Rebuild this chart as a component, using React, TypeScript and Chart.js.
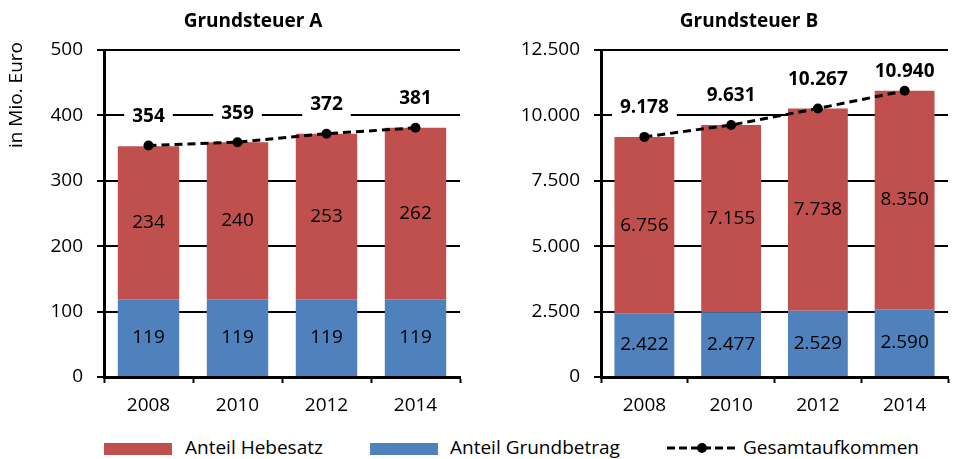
import React, { useEffect, useRef } from 'react';
import { Chart, registerables } from 'chart.js';

Chart.register(...registerables);

// ---- data ----
const categories = ['2008', '2010', '2012', '2014'];
const aHebesatz = [234, 240, 253, 262];
const aGrundbetrag = [119, 119, 119, 119];
const aGesamt = [354, 359, 372, 381];
const bHebesatz = [6756, 7155, 7738, 8350];
const bGrundbetrag = [2422, 2477, 2529, 2590];
const bGesamt = [9178, 9631, 10267, 10940];
const aTicks = [0, 100, 200, 300, 400, 500];
const bTicks = [0, 2500, 5000, 7500, 10000, 12500];
const seriesNames = ['Anteil Hebesatz', 'Anteil Grundbetrag', 'Gesamtaufkommen'];
const panelTitles = ['Grundsteuer A', 'Grundsteuer B'];
const yAxisTitle = 'in Mio. Euro';

const RED = '#C0504D';
const BLUE = '#4F81BD';
const FONT = "'Open Sans', sans-serif";

const fmt = (n: number) => String(n).replace(/\B(?=(\d{3})+(?!\d))/g, '.');

const valueLabels = {
  id: 'valueLabels',
  afterDatasetsDraw(chart: any) {
    const ctx = chart.ctx;
    const area = chart.chartArea;
    ctx.save();
    ctx.textAlign = 'center';
    ctx.textBaseline = 'middle';
    chart.data.datasets.forEach((ds: any, i: number) => {
      const meta = chart.getDatasetMeta(i);
      meta.data.forEach((el: any, j: number) => {
        const text = fmt(ds.data[j]);
        if (ds.type === 'line') {
          ctx.font = `bold 19px ${FONT}`;
          const w = ctx.measureText(text).width;
          const cy = Math.max(el.y - 29, area.top + 22);
          ctx.fillStyle = '#fff';
          ctx.fillRect(el.x - w / 2 - 8, cy - 12, w + 16, 24);
          ctx.fillStyle = '#000';
          ctx.fillText(text, el.x, cy);
        } else {
          ctx.font = `19px ${FONT}`;
          ctx.fillStyle = '#000';
          ctx.fillText(text, el.x, (el.y + el.base) / 2);
        }
      });
    });
    ctx.restore();
  },
};

const yTitlePlugin = {
  id: 'yTitle',
  afterDraw(chart: any) {
    const ctx = chart.ctx;
    ctx.save();
    ctx.translate(16.5, 95);
    ctx.rotate(-Math.PI / 2);
    ctx.font = `19px ${FONT}`;
    ctx.fillStyle = '#000';
    ctx.textAlign = 'center';
    ctx.textBaseline = 'middle';
    ctx.fillText(yAxisTitle, 0, 0);
    ctx.restore();
  },
};

function makeConfig(
  hebesatz: number[],
  grundbetrag: number[],
  gesamt: number[],
  ticks: number[],
  padRight: number,
  yWidth: number,
  withYTitle: boolean
): any {
  const font = { family: FONT, size: 19 };
  return {
    type: 'bar',
    data: {
      labels: categories,
      datasets: [
        {
          type: 'line',
          label: seriesNames[2],
          data: gesamt,
          borderColor: '#000',
          borderWidth: 3,
          borderDash: [8, 5],
          pointRadius: 5,
          pointBackgroundColor: '#000',
          pointBorderColor: '#000',
          pointBorderWidth: 0,
          tension: 0,
          order: 0,
          stack: 'total',
        },
        {
          type: 'bar',
          label: seriesNames[1],
          data: grundbetrag,
          backgroundColor: BLUE,
          order: 1,
          stack: 'bars',
          barPercentage: 0.69,
          categoryPercentage: 1,
        },
        {
          type: 'bar',
          label: seriesNames[0],
          data: hebesatz,
          backgroundColor: RED,
          order: 1,
          stack: 'bars',
          barPercentage: 0.69,
          categoryPercentage: 1,
        },
      ],
    },
    options: {
      responsive: false,
      animation: false,
      layout: { padding: { left: 0, right: padRight, top: 50, bottom: 0 } },
      plugins: {
        legend: { display: false },
        tooltip: { enabled: false },
        title: { display: false },
      },
      scales: {
        x: {
          stacked: true,
          grid: {
            offset: true,
            drawOnChartArea: false,
            drawTicks: true,
            tickLength: 6,
            tickColor: '#000',
            tickWidth: 2,
          },
          border: { color: '#000', width: 3 },
          ticks: { color: '#000', font, padding: 11 },
          afterFit: (s: any) => {
            s.height = 53;
          },
        },
        y: {
          stacked: true,
          min: 0,
          max: ticks[ticks.length - 1],
          afterBuildTicks: (s: any) => {
            s.ticks = ticks.map((v) => ({ value: v }));
          },
          grid: {
            color: '#000',
            lineWidth: 2,
            drawTicks: true,
            tickLength: 7,
            tickColor: '#000',
            tickWidth: 2,
          },
          border: { color: '#000', width: 3 },
          ticks: {
            color: '#000',
            font,
            padding: 14,
            callback: (v: any) => fmt(Number(v)),
          },
          afterFit: (s: any) => {
            s.width = yWidth;
          },
        },
      },
    },
    plugins: withYTitle ? [valueLabels, yTitlePlugin] : [valueLabels],
  };
}

function Panel(props: { cfg: () => any; left: number; width: number }) {
  const ref = useRef<HTMLCanvasElement | null>(null);
  useEffect(() => {
    if (!ref.current) return;
    const chart = new Chart(ref.current, props.cfg());
    return () => chart.destroy();
  }, []);
  return (
    <canvas
      ref={ref}
      width={props.width}
      height={430}
      style={{ position: 'absolute', left: props.left, top: 0, width: props.width, height: 430 }}
    />
  );
}

export default function App() {
  const textStyle: React.CSSProperties = {
    position: 'absolute',
    top: 435,
    fontFamily: FONT,
    fontSize: 19,
    lineHeight: '24px',
    color: '#000',
    whiteSpace: 'nowrap',
  };
  const titleStyle: React.CSSProperties = {
    position: 'absolute',
    top: 8,
    width: 240,
    textAlign: 'center',
    fontFamily: FONT,
    fontSize: 19,
    fontWeight: 'bold',
    lineHeight: '24px',
    color: '#000',
    whiteSpace: 'nowrap',
  };
  return (
    <div style={{ position: 'absolute', left: 0, top: 0, width: 953, height: 459, background: '#fff', overflow: 'hidden' }}>
      <Panel
        left={0}
        width={470}
        cfg={() => makeConfig(aHebesatz, aGrundbetrag, aGesamt, aTicks, 10, 104, true)}
      />
      <Panel
        left={480}
        width={473}
        cfg={() => makeConfig(bHebesatz, bGrundbetrag, bGesamt, bTicks, 0, 121, false)}
      />
      <div style={{ ...titleStyle, left: 253 - 120 }}>{panelTitles[0]}</div>
      <div style={{ ...titleStyle, left: 749 - 120 }}>{panelTitles[1]}</div>
      {/* legend */}
      <div style={{ position: 'absolute', left: 104, top: 443, width: 68, height: 12, background: RED }} />
      <div style={{ ...textStyle, left: 185 }}>{seriesNames[0]}</div>
      <div style={{ position: 'absolute', left: 370, top: 443, width: 68, height: 12, background: BLUE }} />
      <div style={{ ...textStyle, left: 450 }}>{seriesNames[1]}</div>
      <svg style={{ position: 'absolute', left: 667, top: 442 }} width={71} height={12}>
        <line x1={0} y1={6} x2={71} y2={6} stroke="#000" strokeWidth={3} strokeDasharray="8 4" />
        <circle cx={35} cy={6} r={5} fill="#000" />
      </svg>
      <div style={{ ...textStyle, left: 743 }}>{seriesNames[2]}</div>
    </div>
  );
}
